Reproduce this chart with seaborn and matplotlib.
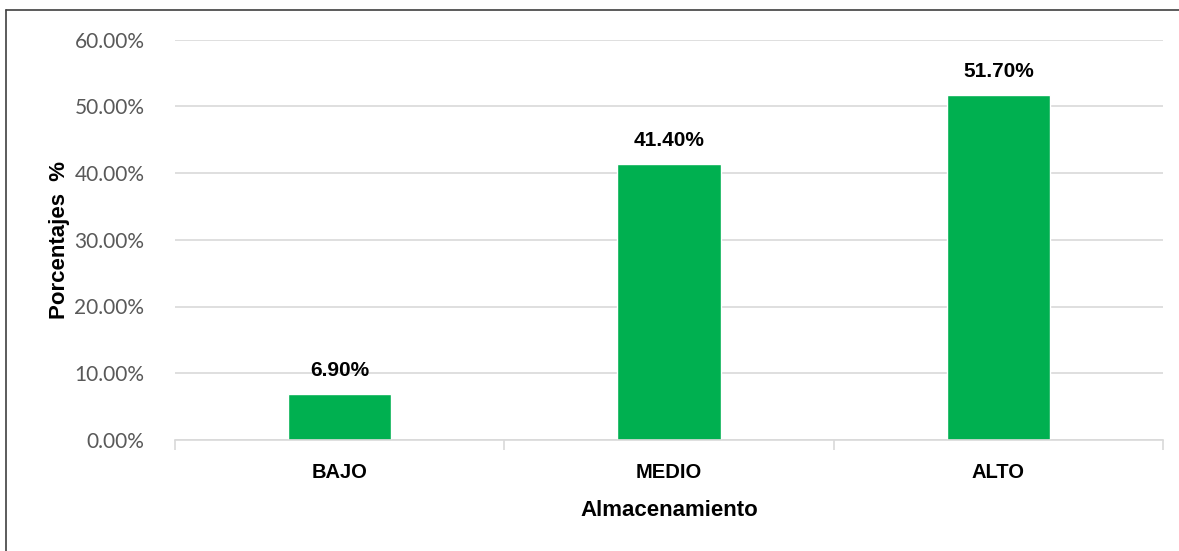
import matplotlib
matplotlib.use("Agg")
import matplotlib.pyplot as plt
import seaborn as sns
import pandas as pd
from matplotlib.lines import Line2D
from matplotlib.ticker import FuncFormatter, MultipleLocator

categories = ["BAJO", "MEDIO", "ALTO"]
values = [6.90, 41.40, 51.70]
value_labels = ["6.90%", "41.40%", "51.70%"]

sns.set_theme(style="white")
plt.rcParams['font.family'] = ['Lato', 'DejaVu Sans']
BOLD = ['Liberation Sans', 'DejaVu Sans']

df = pd.DataFrame({"cat": categories, "val": values})

fig = plt.figure(figsize=(11.79, 5.51), dpi=100)
ax = fig.add_axes([175/1179, 1-440/551, (1163-175)/1179, (440-39.5)/551])

sns.barplot(data=df, x="cat", y="val", color="#00B050", saturation=1, width=0.313, ax=ax)

ax.set_ylim(0, 60)
ax.set_xlim(-0.5, 2.5)
ax.yaxis.set_major_locator(MultipleLocator(10))
ax.yaxis.set_major_formatter(FuncFormatter(lambda v, p: f"{v:.2f}%"))
ax.grid(axis="y", color="#D9D9D9", linewidth=1.2)
ax.set_axisbelow(True)
for s in ["top", "right", "left"]:
    ax.spines[s].set_visible(False)
ax.spines["bottom"].set_color("#D9D9D9")
ax.spines["bottom"].set_linewidth(1.2)

ax.tick_params(axis="y", length=0, pad=22, labelsize=15, labelcolor="#595959")
ax.set_xticks([0, 1, 2])
ax.set_xticklabels(categories, fontweight="bold", fontsize=14.5, color="black", family=BOLD)
ax.tick_params(axis="x", which="major", length=0, pad=16.5)
ax.set_xticks([-0.5, 0.5, 1.5, 2.5], minor=True)
ax.tick_params(axis="x", which="minor", bottom=True, length=7, width=1.2,
               color="#D9D9D9", direction="out")

for i, (v, lab) in enumerate(zip(values, value_labels)):
    ax.annotate(lab, xy=(i, v), xytext=(0, 10), textcoords="offset points",
                ha="center", va="bottom", fontsize=15, fontweight="bold",
                color="black", family=BOLD)

ax.set_xlabel("Almacenamiento", fontsize=16, fontweight="bold", color="black",
              labelpad=13, family=BOLD)
ax.set_ylabel("Porcentajes  %", fontsize=16, fontweight="bold", color="black",
              labelpad=3, family=BOLD)

fig.add_artist(Line2D([6/1179, 1.0], [1-10/551, 1-10/551], transform=fig.transFigure,
                      color="#404040", linewidth=1.2))
fig.add_artist(Line2D([6/1179, 6/1179], [0.0, 1-10/551], transform=fig.transFigure,
                      color="#404040", linewidth=1.2))

fig.savefig("out.png", dpi=100, facecolor="white")
